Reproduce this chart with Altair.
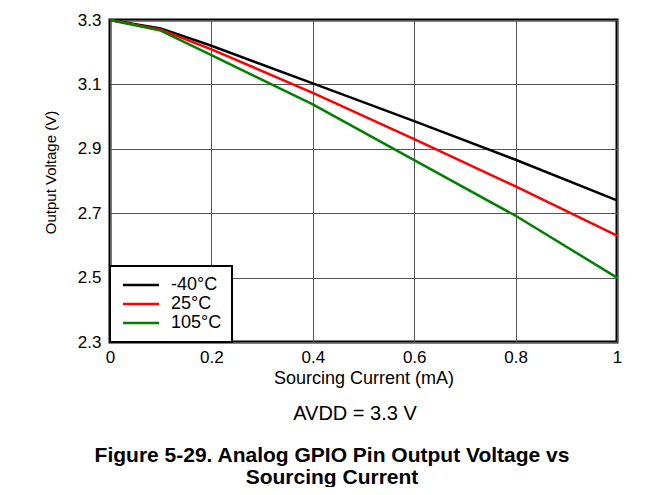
import altair as alt
import pandas as pd

current = [0, 0.1, 0.2, 0.4, 0.6, 0.8, 1.0]
v_m40 = [3.30, 3.274, 3.220, 3.103, 2.986, 2.866, 2.740]
v_25 = [3.30, 3.270, 3.209, 3.074, 2.930, 2.783, 2.630]
v_105 = [3.30, 3.267, 3.191, 3.038, 2.865, 2.692, 2.500]
series = ["-40°C", "25°C", "105°C"]
colors = ["#000000", "#ff0000", "#008000"]
x_ticks = [0, 0.2, 0.4, 0.6, 0.8, 1.0]
y_ticks = [2.3, 2.5, 2.7, 2.9, 3.1, 3.3]

rows = []
for name, vals in zip(series, [v_m40, v_25, v_105]):
    for c, v in zip(current, vals):
        rows.append({"current": c, "voltage": v, "temp": name})
df = pd.DataFrame(rows)

FONT = "Liberation Sans"

lines = alt.Chart(df).mark_line(strokeWidth=2.5).encode(
    x=alt.X("current:Q",
            scale=alt.Scale(domain=[0, 1], nice=False, zero=False),
            axis=alt.Axis(values=x_ticks, format="~g", title="Sourcing Current (mA)",
                          labelPadding=7, titlePadding=4, labelFlush=False,
                          labelFontSize=17, titleFontSize=18)),
    y=alt.Y("voltage:Q",
            scale=alt.Scale(domain=[2.3, 3.3], nice=False, zero=False),
            axis=alt.Axis(values=y_ticks, format=".1f", title="Output Voltage (V)",
                          labelPadding=9, titleX=-60, titleY=152, titleAngle=-90,
                          titleAlign="center", titleBaseline="middle",
                          labelFontSize=17, titleFontSize=15)),
    color=alt.Color("temp:N",
                    scale=alt.Scale(domain=series, range=colors),
                    legend=alt.Legend(title=None, orient="bottom-left", offset=0,
                                      symbolType="M-1,0H5", symbolSize=144,
                                      symbolStrokeWidth=2.5, labelOffset=33,
                                      padding=10, rowPadding=1,
                                      strokeColor="black", fillColor="white",
                                      labelFontSize=18, labelFont=FONT)),
)

one = pd.DataFrame({"k": [0]})
avdd = alt.Chart(one).mark_text(fontSize=20, font=FONT, color="black",
                                align="center", baseline="middle").encode(
    x=alt.value(245), y=alt.value(394), text=alt.value("AVDD = 3.3 V"))
cap1 = alt.Chart(one).mark_text(fontSize=21, font=FONT, fontWeight="bold", color="black",
                                align="center", baseline="middle").encode(
    x=alt.value(222), y=alt.value(436),
    text=alt.value("Figure 5-29. Analog GPIO Pin Output Voltage vs"))
cap2 = alt.Chart(one).mark_text(fontSize=21, font=FONT, fontWeight="bold", color="black",
                                align="center", baseline="middle").encode(
    x=alt.value(222), y=alt.value(458), text=alt.value("Sourcing Current"))

chart = alt.layer(lines, avdd, cap1, cap2).properties(
    width=507, height=322,
    autosize=alt.AutoSizeParams(type="none"),
    padding={"left": 102, "top": 12, "right": 38, "bottom": 145},
).configure_view(
    stroke="black", strokeWidth=3
).configure_axis(
    grid=True, gridColor="#555555", gridWidth=1, domain=False, ticks=False,
    labelFont=FONT, titleFont=FONT,
    labelColor="black", titleColor="black", titleFontWeight="normal"
).configure_legend(
    strokeWidth=2
)

chart.save("out.html", embed_options={"renderer": "svg", "actions": False})
